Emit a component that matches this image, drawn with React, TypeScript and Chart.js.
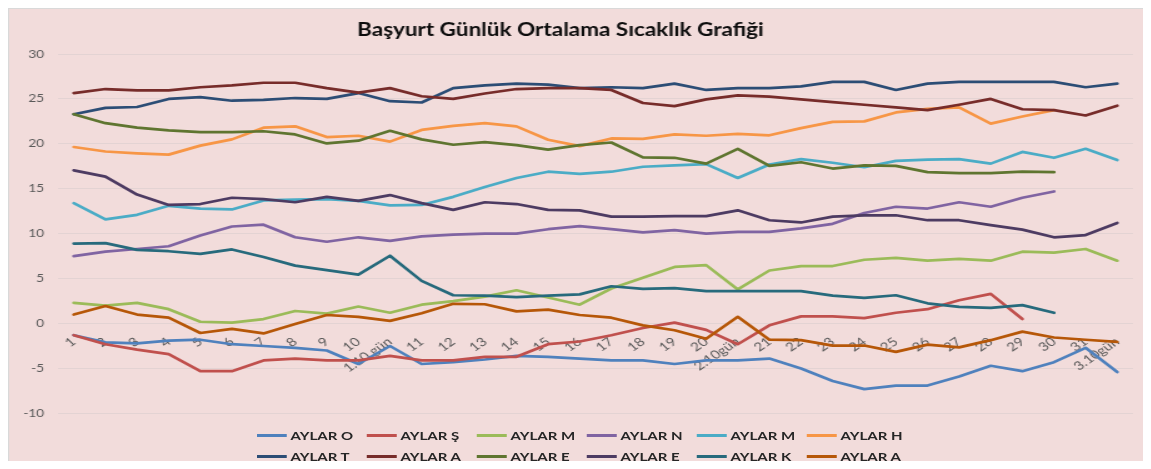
import React, { useEffect, useRef } from "react";
import { Chart, registerables } from "chart.js";

Chart.register(...registerables);

const chartTitle = "Başyurt Günlük Ortalama Sıcaklık Grafiği";

const categories = [
  "1", "2", "3", "4", "5", "6", "7", "8", "9", "10", "1.10 gün",
  "11", "12", "13", "14", "15", "16", "17", "18", "19", "20", "2.10gün",
  "21", "22", "23", "24", "25", "26", "27", "28", "29", "30", "31", "3.10gün",
];

const yTicks = [-10, -5, 0, 5, 10, 15, 20, 25, 30];

const seriesNames = [
  "AYLAR O", "AYLAR Ş", "AYLAR M", "AYLAR N", "AYLAR M", "AYLAR H",
  "AYLAR T", "AYLAR A", "AYLAR E", "AYLAR E", "AYLAR K", "AYLAR A",
];

const seriesColors = [
  "#4F81BD", "#C0504D", "#9BBB59", "#8064A2", "#4BACC6", "#F79646",
  "#2C4D75", "#772C2A", "#5F7530", "#4D3B62", "#276A7C", "#B65708",
];

const aylarO = [-1.3, -2.1, -2.2, -1.9, -1.8, -2.3, -2.5, -2.7, -3.0, -4.5, -2.5, -4.5, -4.3, -4.0, -3.6, -3.7, -3.9, -4.1, -4.1, -4.5, -4.1, -4.1, -3.9, -5.0, -6.4, -7.3, -6.9, -6.9, -5.9, -4.7, -5.3, -4.3, -2.7, -5.4];
const aylarS = [-1.3, -2.3, -2.9, -3.4, -5.3, -5.3, -4.1, -3.9, -4.1, -4.1, -3.6, -4.1, -4.1, -3.7, -3.7, -2.3, -2.0, -1.3, -0.5, 0.1, -0.7, -2.3, -0.2, 0.8, 0.8, 0.6, 1.2, 1.6, 2.6, 3.3, 0.5, null, null, null];
const aylarM1 = [2.3, 2.0, 2.3, 1.6, 0.2, 0.1, 0.5, 1.4, 1.1, 1.9, 1.2, 2.1, 2.5, 3.0, 3.7, 2.9, 2.1, 3.9, 5.1, 6.3, 6.5, 3.8, 5.9, 6.4, 6.4, 7.1, 7.3, 7.0, 7.2, 7.0, 8.0, 7.9, 8.3, 7.0];
const aylarN = [7.5, 8.0, 8.3, 8.6, 9.8, 10.8, 11.0, 9.6, 9.1, 9.6, 9.2, 9.7, 9.9, 10.0, 10.0, 10.5, 10.85, 10.5, 10.15, 10.4, 10.0, 10.2, 10.2, 10.6, 11.1, 12.3, 13.0, 12.8, 13.5, 13.0, 14.0, 14.7, null, null];
const aylarM2 = [13.4, 11.6, 12.1, 13.1, 12.8, 12.7, 13.7, 13.8, 13.85, 13.65, 13.15, 13.2, 14.1, 15.2, 16.2, 16.9, 16.65, 16.9, 17.45, 17.6, 17.75, 16.2, 17.7, 18.3, 17.9, 17.4, 18.1, 18.25, 18.3, 17.8, 19.1, 18.45, 19.45, 18.2];
const aylarH = [19.65, 19.15, 18.95, 18.8, 19.8, 20.5, 21.8, 21.95, 20.75, 20.9, 20.25, 21.55, 22.0, 22.3, 21.95, 20.45, 19.75, 20.6, 20.55, 21.05, 20.9, 21.1, 20.95, 21.75, 22.45, 22.5, 23.5, 23.9, 24.05, 22.25, 23.05, 23.75, null, null];
const aylarT = [23.3, 24.0, 24.1, 25.0, 25.2, 24.8, 24.9, 25.1, 25.0, 25.65, 24.75, 24.6, 26.2, 26.5, 26.7, 26.6, 26.2, 26.3, 26.2, 26.7, 26.0, 26.2, 26.2, 26.4, 26.9, 26.9, 26.0, 26.7, 26.9, 26.9, 26.9, 26.9, 26.3, 26.7];
const aylarA1 = [25.65, 26.1, 25.95, 25.95, 26.3, 26.5, 26.8, 26.8, 26.2, 25.7, 26.2, 25.3, 25.0, 25.6, 26.1, 26.2, 26.2, 26.0, 24.55, 24.2, 24.95, 25.4, 25.25, 24.95, 24.65, 24.35, 24.05, 23.75, 24.35, 25.0, 23.85, 23.75, 23.15, 24.25];
const aylarE1 = [23.3, 22.3, 21.8, 21.5, 21.3, 21.3, 21.4, 21.05, 20.05, 20.35, 21.45, 20.5, 19.9, 20.2, 19.85, 19.35, 19.85, 20.15, 18.5, 18.45, 17.8, 19.45, 17.55, 17.95, 17.25, 17.6, 17.55, 16.85, 16.75, 16.75, 16.9, 16.85, null, null];
const aylarE2 = [17.05, 16.35, 14.35, 13.2, 13.3, 14.0, 13.85, 13.5, 14.1, 13.65, 14.3, 13.4, 12.65, 13.5, 13.3, 12.65, 12.6, 11.9, 11.9, 11.95, 11.95, 12.6, 11.5, 11.25, 11.9, 12.05, 12.05, 11.5, 11.5, 10.95, 10.45, 9.6, 9.85, 11.2];
const aylarK = [8.9, 8.95, 8.2, 8.05, 7.75, 8.25, 7.4, 6.45, 5.95, 5.45, 7.55, 4.75, 3.15, 3.1, 2.95, 3.1, 3.25, 4.15, 3.85, 3.95, 3.6, 3.6, 3.6, 3.6, 3.1, 2.85, 3.15, 2.25, 1.85, 1.75, 2.05, 1.2, null, null];
const aylarA2 = [1.0, 1.95, 1.0, 0.65, -1.05, -0.6, -1.1, -0.05, 0.95, 0.75, 0.3, 1.15, 2.2, 2.15, 1.35, 1.55, 0.95, 0.65, -0.2, -0.75, -1.7, 0.75, -1.8, -1.85, -2.45, -2.45, -3.15, -2.35, -2.65, -1.85, -0.9, -1.55, -1.8, -2.05];

const seriesValues = [aylarO, aylarS, aylarM1, aylarN, aylarM2, aylarH, aylarT, aylarA1, aylarE1, aylarE2, aylarK, aylarA2];

const FONT = "Lato, 'Open Sans', sans-serif";

const titlePlugin = {
  id: "customTitle",
  afterDraw(chart: any) {
    const ctx = chart.ctx;
    ctx.save();
    ctx.font = `bold 18px ${FONT}`;
    ctx.fillStyle = "#0d0d0d";
    ctx.textAlign = "center";
    ctx.textBaseline = "middle";
    ctx.fillText(chartTitle, 441, 21);
    ctx.restore();
  },
};

export default function App() {
  const canvasRef = useRef<HTMLCanvasElement | null>(null);

  useEffect(() => {
    if (!canvasRef.current) return;
    const n = seriesNames.length;
    const chart = new Chart(canvasRef.current, {
      type: "line",
      data: {
        labels: categories,
        datasets: seriesNames.map((name, i) => ({
          label: name,
          data: seriesValues[i],
          borderColor: seriesColors[i],
          backgroundColor: seriesColors[i],
          borderWidth: 2.7,
          pointRadius: 0,
          tension: 0,
          spanGaps: false,
          borderJoinStyle: "round" as const,
          borderCapStyle: "round" as const,
          order: n - i,
        })),
      },
      options: {
        animation: false,
        responsive: true,
        maintainAspectRatio: false,
        layout: { padding: { top: 45, right: 13, bottom: 8, left: 0 } },
        plugins: {
          legend: { display: false },
          title: { display: false },
          tooltip: { enabled: false },
        },
        scales: {
          x: {
            type: "category",
            position: { y: 0 } as any,
            offset: true,
            grid: { display: false },
            border: { display: false },
            ticks: {
              autoSkip: false,
              minRotation: 40,
              maxRotation: 40,
              padding: 3,
              color: "#595959",
              font: { family: FONT, size: 12 },
            },
          },
          y: {
            min: -10,
            max: 30,
            afterFit: (scale: any) => {
              scale.width = 39;
            },
            afterBuildTicks: (scale: any) => {
              scale.ticks = yTicks.map((v) => ({ value: v }));
            },
            grid: { color: "#e3d3d3", lineWidth: 1, drawTicks: false },
            border: { display: false },
            ticks: {
              padding: 11,
              color: "#595959",
              font: { family: FONT, size: 11 },
            },
          },
        },
      },
      plugins: [titlePlugin],
    });
    return () => chart.destroy();
  }, []);

  return (
    <div
      style={{
        position: "relative",
        width: 914,
        height: 461,
        marginBottom: -8,
        boxSizing: "border-box",
        border: "1px solid #d9d9d9",
        background: "#F2DCDB",
        transform: "scaleX(1.25)",
        transformOrigin: "0 0",
        fontFamily: FONT,
        overflow: "hidden",
      }}
    >
      <div style={{ position: "relative", width: "100%", height: 422 }}>
        <canvas ref={canvasRef} />
      </div>
      <div
        style={{
          position: "absolute",
          left: 198,
          top: 416,
          display: "grid",
          gridTemplateColumns: "repeat(6, 88px)",
          gridAutoRows: "21px",
        }}
      >
        {seriesNames.map((name, i) => (
          <div key={i} style={{ display: "flex", alignItems: "center", whiteSpace: "nowrap", lineHeight: "14px" }}>
            <span
              style={{
                display: "inline-block",
                width: 24,
                height: 3,
                background: seriesColors[i],
                marginRight: 3,
              }}
            />
            <span style={{ fontWeight: 700, fontSize: 12, color: "#262626" }}>{name}</span>
          </div>
        ))}
      </div>
    </div>
  );
}
